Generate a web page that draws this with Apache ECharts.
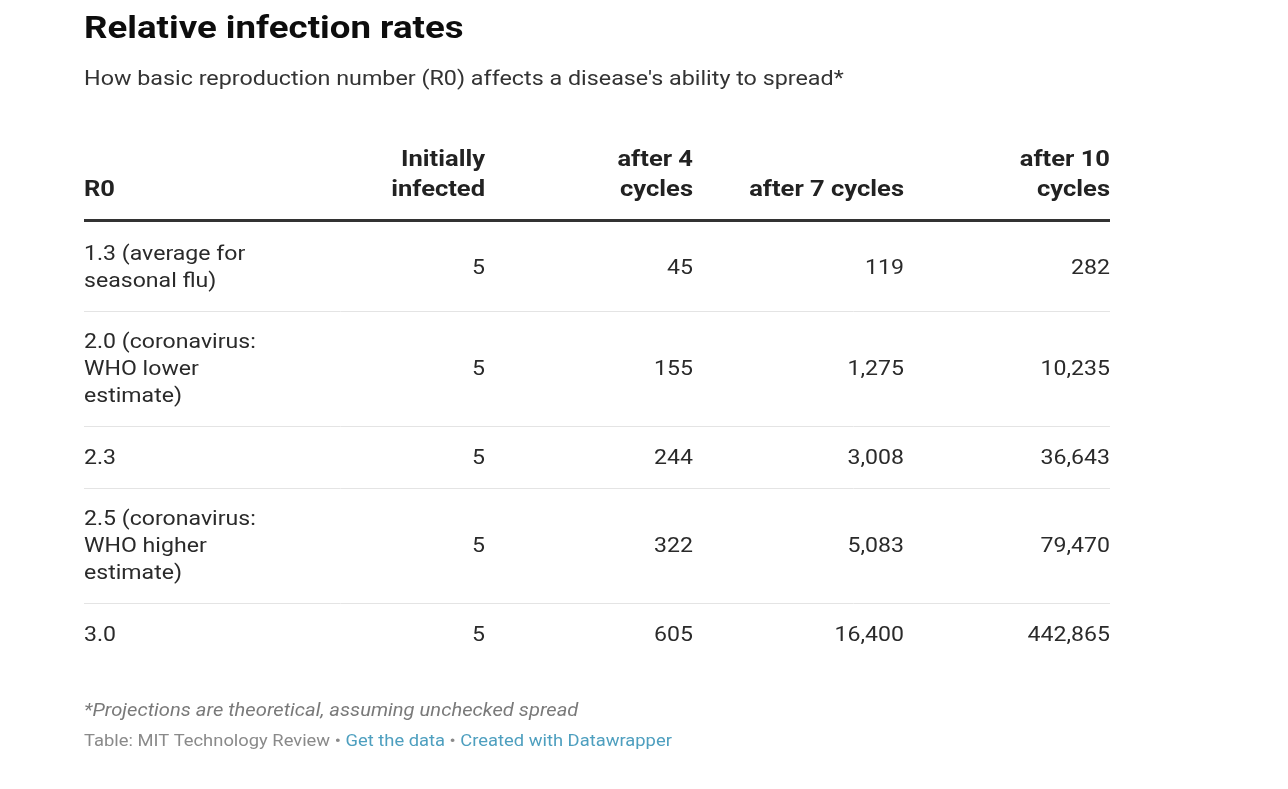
<!DOCTYPE html>
<html>
<head>
<meta charset="utf-8">
<script src="https://cdn.jsdelivr.net/npm/echarts@6/dist/echarts.min.js"></script>
<style>
html,body{margin:0;padding:0;background:#fff;}
#chart{width:1288px;height:789px;}
</style>
</head>
<body>
<div id="chart"></div>
<script>
// ---- data ----
const columns = ['R0', 'Initially\ninfected', 'after 4\ncycles', 'after 7 cycles', 'after 10\ncycles'];
const r0Labels = [
  '1.3 (average for\nseasonal flu)',
  '2.0 (coronavirus:\nWHO lower\nestimate)',
  '2.3',
  '2.5 (coronavirus:\nWHO higher\nestimate)',
  '3.0'
];
const initiallyInfected = [5, 5, 5, 5, 5];
const after4Cycles = [45, 155, 244, 322, 605];
const after7Cycles = [119, 1275, 3008, 5083, 16400];
const after10Cycles = [282, 10235, 36643, 79470, 442865];

const titleText = 'Relative infection rates';
const subtitleText = "How basic reproduction number (R0) affects a disease's ability to spread*";
const noteText = '*Projections are theoretical, assuming unchecked spread';

// ---- layout (not data) ----
const FONT = 'Roboto, "Noto Sans", sans-serif';
const tableLeft = 84, tableRight = 1110, tableTop = 140;
const headerH = 82;
const lineH = 26.5, rowPad = 35.5;
const colRight = [0, 401, 609, 820, 1026]; // right edges of numeric columns, relative to table
const SX = 1.1;      // horizontal text stretch of the reference
const SX_HEAD = 1.16;

const valueCols = [initiallyInfected, after4Cycles, after7Cycles, after10Cycles];
const rowData = [];
let acc = headerH;
r0Labels.forEach((lab, i) => {
  const n = lab.split('\n').length;
  const h = rowPad + lineH * n;
  rowData.push([i, acc, acc + h]);
  acc += h;
});
const totalH = acc;
const tableW = tableRight - tableLeft;

const fmt = v => v.toLocaleString('en-US');

const chart = echarts.init(document.getElementById('chart'), null, {renderer: 'canvas'});
chart.setOption({
  backgroundColor: '#ffffff',
  animation: false,
  graphic: [
    {type: 'text', x: 84, y: 29.5, scaleX: 1.145, silent: true,
     style: {text: titleText, fontFamily: FONT, fontSize: 32, fontWeight: 'bold', fill: '#0d0d0d', verticalAlign: 'middle'}},
    {type: 'text', x: 84, y: 80, scaleX: 1.11, silent: true,
     style: {text: subtitleText, fontFamily: FONT, fontSize: 21, fill: '#333333', verticalAlign: 'middle'}},
    {type: 'text', x: 84, y: 711.5, scaleX: 1.09, silent: true,
     style: {text: noteText, fontFamily: FONT, fontSize: 18.5, fontStyle: 'italic', fill: '#7a7a7a', verticalAlign: 'middle'}},
    {type: 'text', x: 84, y: 741.5, scaleX: 1.08, silent: true,
     style: {text: '{g|Table: MIT Technology Review • }{l|Get the data}{g| • }{l|Created with Datawrapper}',
       fontFamily: FONT, fontSize: 17, verticalAlign: 'middle',
       rich: {g: {fontFamily: FONT, fontSize: 17, fill: '#8a8a8a'},
              l: {fontFamily: FONT, fontSize: 17, fill: '#4e9fbf'}}}}
  ],
  grid: {left: tableLeft, top: tableTop, width: tableW, height: totalH, containLabel: false},
  xAxis: {type: 'value', min: 0, max: tableW, show: false},
  yAxis: {type: 'value', min: 0, max: totalH, inverse: true, show: false},
  series: [
    {
      type: 'custom', name: 'header', clip: false, silent: true,
      data: [[0, 0, headerH]],
      renderItem: function (params, api) {
        const children = [];
        const yBottomText = api.coord([0, headerH - 17])[1];
        columns.forEach((c, j) => {
          const x = j === 0 ? api.coord([0, 0])[0] : api.coord([colRight[j], 0])[0];
          children.push({
            type: 'text', x: x, y: yBottomText, scaleX: SX_HEAD,
            style: {text: c, align: j === 0 ? 'left' : 'right', verticalAlign: 'bottom',
              fontFamily: FONT, fontSize: 22, fontWeight: 'bold', lineHeight: 30, fill: '#222222'}
          });
        });
        const p0 = api.coord([0, headerH - 1.5]);
        const p1 = api.coord([tableW, headerH - 1.5]);
        children.push({type: 'line', shape: {x1: p0[0], y1: p0[1], x2: p1[0], y2: p1[1]},
          style: {stroke: '#333333', lineWidth: 3}});
        return {type: 'group', children: children};
      }
    },
    {
      type: 'custom', name: 'rows', clip: false, silent: true,
      data: rowData,
      encode: {y: [1, 2]},
      renderItem: function (params, api) {
        const i = api.value(0);
        const yTop = api.value(1), yBot = api.value(2);
        const yMid = api.coord([0, (yTop + yBot) / 2 + 2])[1];
        const children = [];
        children.push({
          type: 'text', x: api.coord([0, 0])[0], y: yMid, scaleX: SX,
          style: {text: r0Labels[i], align: 'left', verticalAlign: 'middle',
            fontFamily: FONT, fontSize: 21, lineHeight: 27, fill: '#2a2a2a'}
        });
        valueCols.forEach((arr, k) => {
          children.push({
            type: 'text', x: api.coord([colRight[k + 1], 0])[0], y: yMid, scaleX: SX,
            style: {text: fmt(arr[i]), align: 'right', verticalAlign: 'middle',
              fontFamily: FONT, fontSize: 21, fill: '#2a2a2a'}
          });
        });
        if (i < r0Labels.length - 1) {
          const p0 = api.coord([0, yBot]);
          const p1 = api.coord([tableW, yBot]);
          children.push({type: 'line', shape: {x1: p0[0], y1: Math.round(p0[1]) + 0.5, x2: p1[0], y2: Math.round(p1[1]) + 0.5},
            style: {stroke: '#e4e4e4', lineWidth: 1}});
        }
        return {type: 'group', children: children};
      }
    }
  ]
});
</script>
</body>
</html>
